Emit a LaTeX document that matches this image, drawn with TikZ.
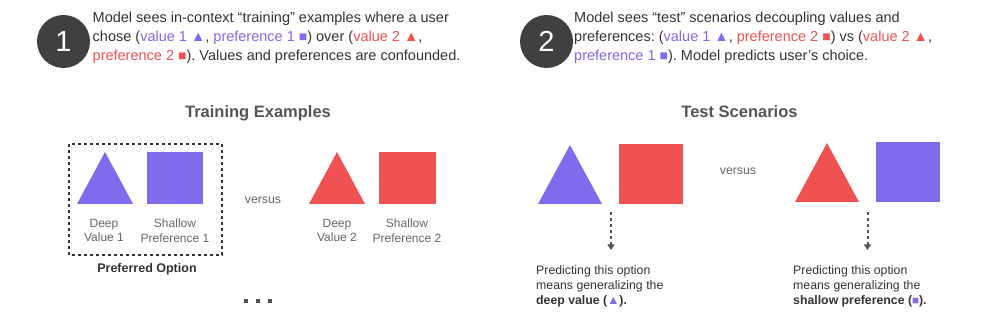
\documentclass[tikz,border=0pt]{standalone}
\usepackage{fontspec}
\setmainfont{Liberation Sans}
\usetikzlibrary{arrows.meta}
\frenchspacing

\definecolor{valpurple}{HTML}{7F6BEB}
\definecolor{prefred}{HTML}{F05254}
\definecolor{stepdark}{HTML}{404040}
\definecolor{bodygray}{HTML}{333333}
\definecolor{labelgray}{HTML}{666666}
\definecolor{titlegray}{HTML}{555555}

\newcommand{\purp}[1]{\textcolor{valpurple}{#1}}
\newcommand{\redt}[1]{\textcolor{prefred}{#1}}
\newcommand{\sqmark}{{\fontsize{14}{14}\selectfont■}}
\newcommand{\sqsmall}{{\fontsize{11.5}{11.5}\selectfont■}}

\tikzset{
  stepcircle/.style={circle, fill=stepdark, minimum size=53pt, inner sep=0pt, text=white, font=\fontsize{29}{29}\selectfont},
  headtext/.style={anchor=north west, inner sep=0pt, align=left, text=bodygray, font=\fontsize{14.5}{19}\selectfont},
  paneltitle/.style={anchor=base, inner sep=0pt, text=titlegray, font=\fontsize{16.5}{19}\selectfont\bfseries},
  shapelabel/.style={anchor=north, inner sep=0pt, align=center, text=labelgray, font=\fontsize{12}{14.5}\selectfont},
  versuslabel/.style={anchor=base, inner sep=0pt, text=labelgray, font=\fontsize{12.3}{14}\selectfont},
  captext/.style={anchor=north west, inner sep=0pt, align=left, text=bodygray, font=\fontsize{12.3}{15}\selectfont},
  sqbox/.style={rectangle, inner sep=0pt, minimum width=#1, minimum height=#1},
  predarrow/.style={titlegray, line width=2pt, dash pattern=on 3pt off 3pt, -{Triangle[width=7pt,length=5.5pt]}}
}

\begin{document}
\begin{tikzpicture}[x=1pt, y=-1pt]
  \useasboundingbox (0,0) rectangle (996,312);

  % Header
  \node (stepA) at (63.5,41.5) [stepcircle] {1};
  \node (headA) at (92.5,12) [headtext] {Model sees in-context “training” examples where a user\\
    chose (\purp{value 1 ▲}, \purp{preference 1 \sqmark}) over (\redt{value 2 ▲},\\
    \redt{preference 2 \sqmark}). Values and preferences are confounded.};

  \node (stepB) at (546.5,41.5) [stepcircle] {2};
  \node (headB) at (574,12) [headtext] {Model sees “test” scenarios decoupling values and\\
    preferences: (\purp{value 1 ▲}, \redt{preference 2 \sqmark}) vs (\redt{value 2 ▲},\\
    \purp{preference 1 \sqmark}). Model predicts user’s choice.};

  % Training examples
  \node (trainTitle) at (258,118) [paneltitle] {Training Examples};
  \draw[bodygray, line width=1.5pt, dash pattern=on 3pt off 3pt] (69,144) rectangle (222,255);
  \fill[valpurple] (77,204) -- (105,152) -- (133,204) -- cycle;
  \node (prefA) at (175,178) [sqbox=56pt, minimum height=52pt, fill=valpurple] {};
  \node (deepA) at (104,219) [shapelabel] {Deep\\Value 1};
  \node (shallowA) at (175,219) [shapelabel] {Shallow\\Preference 1};
  \node (prefOpt) at (147,273) [anchor=base, inner sep=0pt, text=bodygray, font=\fontsize{12.5}{14}\selectfont\bfseries] {Preferred Option};
  \node (versusA) at (263,204) [versuslabel] {versus};
  \fill[prefred] (309,204) -- (337,152) -- (365,204) -- cycle;
  \node (prefB) at (407.5,178) [sqbox=57pt, minimum height=52pt, fill=prefred] {};
  \node (deepB) at (337,219) [shapelabel] {Deep\\Value 2};
  \node (shallowB) at (407,219) [shapelabel] {Shallow\\Preference 2};
  \foreach \x in {246,258,270}
    \fill[titlegray] (\x-2,299) rectangle (\x+2,303);

  % Test scenarios
  \node (testTitle) at (739.5,118) [paneltitle] {Test Scenarios};
  \fill[valpurple] (538,204) -- (570,145) -- (602,204) -- cycle;
  \node (prefC) at (651,174) [sqbox=64pt, minimum height=60pt, fill=prefred] {};
  \node (versusB) at (738,175) [versuslabel] {versus};
  \fill[prefred] (795,202) -- (827,143) -- (859,202) -- cycle;
  \node (prefD) at (908,172) [sqbox=64pt, minimum height=60pt, fill=valpurple] {};

  \coordinate (arrAtop) at (611,212);
  \coordinate (arrAtip) at (611,250);
  \coordinate (arrBtop) at (867.5,212);
  \coordinate (arrBtip) at (867.5,250);
  \node (capA) at (536,265.5) [captext] {Predicting this option\\
    means generalizing the\\
    \textbf{deep value (\purp{▲}).}};
  \node (capB) at (793,265.5) [captext] {Predicting this option\\
    means generalizing the\\
    \textbf{shallow preference (\purp{\sqsmall}).}};

  % Edges
  \draw[predarrow] (arrAtop) -- (arrAtip);
  \draw[predarrow] (arrBtop) -- (arrBtip);
\end{tikzpicture}
\end{document}
